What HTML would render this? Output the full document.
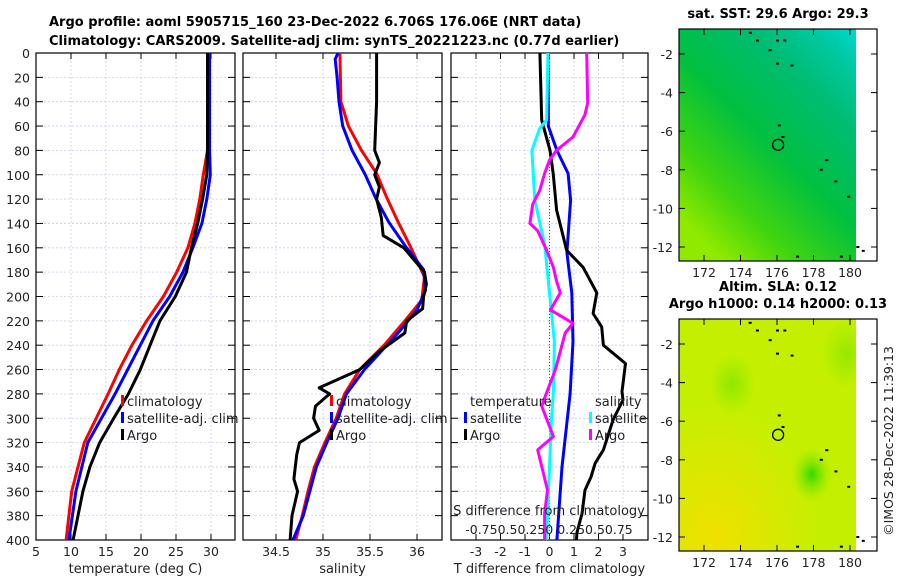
<!DOCTYPE html>
<html><head><meta charset="utf-8"><style>
html,body{margin:0;padding:0;background:#fff;}
svg{display:block;font-family:"DejaVu Sans","Liberation Sans",sans-serif;}
</style></head><body>
<svg id="fig" width="900" height="580" viewBox="0 0 900 580" xmlns="http://www.w3.org/2000/svg">
<defs>
<linearGradient id="sstg" x1="1" y1="0" x2="0.25" y2="1">
<stop offset="0" stop-color="#00d8d0"/><stop offset="0.12" stop-color="#00c8a0"/><stop offset="0.3" stop-color="#00bc70"/><stop offset="0.55" stop-color="#00c040"/><stop offset="0.8" stop-color="#40d410"/><stop offset="1" stop-color="#90ea00"/>
</linearGradient>
<radialGradient id="slaY" cx="0.2" cy="0.95" r="0.6"><stop offset="0" stop-color="#f0e000"/><stop offset="1" stop-color="#f0e000" stop-opacity="0"/></radialGradient>
<radialGradient id="slaG1" cx="0.75" cy="0.67" r="0.12"><stop offset="0" stop-color="#30d800"/><stop offset="1" stop-color="#90e800" stop-opacity="0"/></radialGradient>
<radialGradient id="slaG2" cx="0.3" cy="0.28" r="0.13"><stop offset="0" stop-color="#90e800"/><stop offset="1" stop-color="#90e800" stop-opacity="0"/></radialGradient>
<radialGradient id="slaG3" cx="0.95" cy="0.15" r="0.15"><stop offset="0" stop-color="#98e800"/><stop offset="1" stop-color="#98e800" stop-opacity="0"/></radialGradient>
</defs>
<g font-weight="bold" font-size="13" fill="#000">
<text x="49" y="26">Argo profile: aoml 5905715_160 23-Dec-2022 6.706S 176.06E (NRT data)</text>
<text x="49" y="45">Climatology: CARS2009. Satellite-adj clim: synTS_20221223.nc (0.77d earlier)</text>
</g>
<g id="plots"></g>
</svg>
<script>
// ---- data ----
const depthTicks=[0,20,40,60,80,100,120,140,160,180,200,220,240,260,280,300,320,340,360,380,400];
const tempTicks=[5,10,15,20,25,30];
const salTicks=[34.5,35,35.5,36];
const tdiffTicks=[-3,-2,-1,0,1,2,3];
const sdiffTickLabels=["-0.75","0.5","0.25","0","0.25","0.5","0.75"];
const tempClimDepth=[0,40,80,100,120,140,160,180,200,220,240,260,280,320,360,400];
const tempClimVal=[29.6,29.6,29.5,28.9,28.4,27.7,26.7,25.1,23.2,20.8,18.7,16.9,15.3,11.9,10.1,9.3];
const tempSatDepth=[0,40,80,100,120,140,160,180,200,220,240,260,280,320,360,400];
const tempSatVal=[29.8,29.8,29.8,29.9,29.4,28.7,27.4,26.0,24.1,21.7,19.9,18.1,16.3,12.4,10.7,9.7];
const tempArgoDepth=[0,40,80,100,120,140,160,180,200,220,240,260,280,300,320,340,360,400];
const tempArgoVal=[29.5,29.5,29.5,29.4,28.8,28.1,27.2,26.5,24.9,22.7,21.3,19.9,18.2,16.1,14.1,12.7,11.7,10.3];
const salClimDepth=[0,40,60,80,99,119,139,159,184,203,220,240,260,280,300,320,340,360,380,400];
const salClimVal=[35.18,35.19,35.27,35.41,35.57,35.68,35.80,35.93,36.08,36.05,35.87,35.65,35.39,35.23,35.14,35.02,34.91,34.84,34.78,34.71];
const salSatDepth=[0,5,20,40,60,80,100,119,139,159,178,195,211,228,240,260,280,300,320,340,360,380,400];
const salSatVal=[35.16,35.13,35.15,35.17,35.21,35.31,35.45,35.56,35.70,35.88,36.07,36.09,36.00,35.82,35.68,35.44,35.25,35.16,35.04,34.93,34.86,34.79,34.68];
const salArgoDepth=[0,40,80,90,100,110,120,135,150,160,170,180,190,200,210,220,230,245,260,275,280,290,300,310,320,330,350,360,380,400];
const salArgoVal=[35.57,35.57,35.55,35.60,35.55,35.60,35.57,35.62,35.64,35.86,35.97,36.08,36.10,36.07,36.06,35.89,35.87,35.60,35.39,34.96,35.07,34.92,34.90,34.96,34.75,34.72,34.69,34.73,34.67,34.65];
const tdSatDepth=[0,60,80,99,121,164,197,237,280,340,400];
const tdSatVal=[-0.06,-0.05,0.3,0.76,0.86,0.71,0.91,0.96,0.84,0.51,0.3];
const tdArgoDepth=[0,55,80,99,129,146,162,176,197,214,225,240,255,278,285,301,326,337,348,359,378,394,400];
const tdArgoVal=[-0.39,-0.32,0.02,0.15,0.29,0.5,0.7,1.37,1.93,1.78,2.13,2.2,3.1,2.96,3.0,2.6,2.2,1.86,1.7,1.45,1.33,1.12,1.1];
const sdSatDepth=[0,55,62,80,121,157,237,279,300,400];
const sdSatVal=[-0.015,-0.03,-0.1,-0.18,-0.15,-0.05,0.05,0.04,0.02,-0.03];
const sdArgoDepth=[0,41,51,69,80,88,99,113,124,140,146,162,176,187,197,211,222,230,260,279,290,315,326,359,378,400];
const sdArgoVal=[0.38,0.39,0.36,0.24,0.07,0.0,-0.05,-0.1,-0.17,-0.2,-0.12,-0.03,0.04,0.07,0.11,0.01,0.24,0.16,0.06,-0.03,-0.08,0.04,-0.12,-0.02,-0.05,-0.05];
const mapLonTicks=[172,174,176,178,180];
const mapLatTicks=[-2,-4,-6,-8,-10,-12];
const argoLon=176.06, argoLat=-6.706;

const NS="http://www.w3.org/2000/svg";
const root=document.getElementById('plots');
function el(tag,attrs,parent,txt){const e=document.createElementNS(NS,tag);for(const k in attrs)e.setAttribute(k,attrs[k]);if(txt!==undefined)e.textContent=txt;(parent||root).appendChild(e);return e;}
const Y0=53,Y1=540;
const yD=d=>Y0+d*(Y1-Y0)/400;

function panel(name,x0,x1,xs,ticks,labels,xlabel){
  const g=el('g',{},root);
  
  
  ticks.forEach(t=>{const x=xs(t);if(x>x0+1&&x<x1-1){const l=el('line',{x1:x,x2:x,y1:Y0,y2:Y1,stroke:'#c8cde8','stroke-width':0.8,'stroke-dasharray':'2,2'},g);}});
  depthTicks.forEach(d=>{const y=yD(d);if(d>0&&d<400){const l=el('line',{x1:x0,x2:x1,y1:y,y2:y,stroke:'#c8cde8','stroke-width':0.8,'stroke-dasharray':'2,2'},g);}
    el('line',{x1:x0,x2:x0+7,y1:y,y2:y,stroke:'#000'},g);el('line',{x1:x1-7,x2:x1,y1:y,y2:y,stroke:'#000'},g);});
  ticks.forEach(t=>{const x=xs(t);el('line',{x1:x,x2:x,y1:Y1,y2:Y1-6,stroke:'#000'},g);el('line',{x1:x,x2:x,y1:Y0,y2:Y0+6,stroke:'#000'},g);});
  const b=el('rect',{x:x0,y:Y0,width:x1-x0,height:Y1-Y0,fill:'none',stroke:'#000','stroke-width':1.2},g);
  
  if(labels){ticks.forEach((t,i)=>{const tx=el('text',{x:xs(t),y:556,'font-size':12.5,'text-anchor':'middle',fill:'#222'},g,labels[i]);});}
  if(xlabel){const xl=el('text',{x:(x0+x1)/2,y:573,'font-size':13,'text-anchor':'middle',fill:'#222'},g,xlabel);}
  return g;
}
function line(g,name,depths,vals,xs,color,w,dash){
  const pts=depths.map((d,i)=>xs(vals[i]).toFixed(1)+','+yD(d).toFixed(1)).join(' ');
  const p=el('polyline',{points:pts,fill:'none',stroke:color,'stroke-width':w||3,'stroke-linejoin':'round'},g);
  if(dash)p.setAttribute('stroke-dasharray',dash);
  
  
}

depthTicks.forEach(d=>{const t=el('text',{x:30,y:yD(d)+5,'font-size':12.5,'text-anchor':'end',fill:'#222'},root,String(d));});

const xT=v=>36+(v-5)*7;
const g1=panel('temperature-panel',36,235,xT,tempTicks,tempTicks.map(String),'temperature (deg C)');
line(g1,'temp-climatology-line',tempClimDepth,tempClimVal,xT,'#ff0000');
line(g1,'temp-satellite-line',tempSatDepth,tempSatVal,xT,'#0000ff');
line(g1,'temp-argo-line',tempArgoDepth,tempArgoVal,xT,'#000');

const xS=v=>276+(v-34.5)*94;
const g2=panel('salinity-panel',243,442,xS,salTicks,salTicks.map(String),'salinity');
line(g2,'sal-climatology-line',salClimDepth,salClimVal,xS,'#ff0000');
line(g2,'sal-satellite-line',salSatDepth,salSatVal,xS,'#0000ff');
line(g2,'sal-argo-line',salArgoDepth,salArgoVal,xS,'#000');

const xTd=v=>549.5+v*24.5, xSd=v=>549.5+v*98;
const g3=panel('difference-panel',451,648,xTd,tdiffTicks,tdiffTicks.map(String),'T difference from climatology');
el('line',{x1:549.5,x2:549.5,y1:Y0,y2:Y1,stroke:'#555','stroke-width':1,'stroke-dasharray':'1,2'},g3);
line(g3,'tdiff-satellite-line',tdSatDepth,tdSatVal,xTd,'#0000ff');
line(g3,'tdiff-argo-line',tdArgoDepth,tdArgoVal,xTd,'#000');
line(g3,'sdiff-satellite-line',sdSatDepth,sdSatVal,xSd,'#00ffff');
line(g3,'sdiff-argo-line',sdArgoDepth,sdArgoVal,xSd,'#ff00ff');
const st=el('text',{x:549,y:515,'font-size':13,'text-anchor':'middle',fill:'#222'},g3,'S difference from climatology');

const sl=el('text',{x:549,y:534,'font-size':12.5,'text-anchor':'middle',fill:'#222'},g3,'-0.750.50.250 0.250.50.75');


function legend(name,x,y,color,label){
  const g=el('g',{},root);
  el('rect',{x:x,y:y-11,width:3,height:11,fill:color},g);
  el('text',{x:x+6,y:y,'font-size':13,fill:'#222'},g,label);
}
legend('legend-climatology',121,406,'#ff0000','climatology');
legend('legend-satellite-adj',121,423,'#0000ff','satellite-adj. clim');
legend('legend-argo',121,440,'#000','Argo');
legend('legend2-climatology',330,406,'#ff0000','climatology');
legend('legend2-satellite-adj',330,423,'#0000ff','satellite-adj. clim');
legend('legend2-argo',330,440,'#000','Argo');
const lt=el('text',{x:470,y:406,'font-size':13,fill:'#222'},root,'temperature');
const ls=el('text',{x:595,y:406,'font-size':13,fill:'#222'},root,'salinity');
legend('legend-tdiff-satellite',464,423,'#0000ff','satellite');
legend('legend-tdiff-argo',464,440,'#000','Argo');
legend('legend-sdiff-satellite',589,423,'#00ffff','satellite');
legend('legend-sdiff-argo',589,440,'#ff00ff','Argo');

function map(name,top,fills,title){
  const g=el('g',{},root);
  const L=679,R=877,B=top+232,DR=856;
  fills.forEach(f=>el('rect',{x:L,y:top,width:DR-L,height:B-top,fill:f},g));
  const lx=v=>704+(v-172)*18.25, ly=v=>top+25+(-2-v)*19.3;
  [[174.5,-0.9],[174.9,-1.3],[176,-1.3],[176.4,-1.3],[175.6,-1.8],[176,-2.5],[176.8,-2.6],[176.1,-5.7],[176.3,-6.3],[178.7,-7.5],[178.4,-8],[179.2,-8.6],[179.9,-9.4],[177.1,-12.5],[179.5,-12.5],[180.4,-12],[180.7,-12.2]].forEach(p=>el('rect',{x:lx(p[0])-1,y:ly(p[1])-1,width:3,height:2,fill:'#000'},g));
  const c=el('circle',{cx:lx(argoLon),cy:ly(argoLat),r:5.5,fill:'none',stroke:'#000','stroke-width':1.3},g);
  
  el('rect',{x:L,y:top,width:R-L,height:B-top,fill:'none',stroke:'#000','stroke-width':1.2},g);
  mapLonTicks.forEach(v=>{const x=lx(v);el('line',{x1:x,x2:x,y1:B,y2:B-6,stroke:'#000'},g);el('line',{x1:x,x2:x,y1:top,y2:top+6,stroke:'#000'},g);
    const t=el('text',{x:x,y:B+16,'font-size':12.5,'text-anchor':'middle',fill:'#222'},g,String(v));});
  mapLatTicks.forEach(v=>{const y=ly(v);el('line',{x1:L,x2:L+6,y1:y,y2:y,stroke:'#000'},g);el('line',{x1:R-6,x2:R,y1:y,y2:y,stroke:'#000'},g);
    const t=el('text',{x:673,y:y+5,'font-size':12.5,'text-anchor':'end',fill:'#222'},g,String(v));});
  title.forEach((s,i)=>{const t=el('text',{x:778,y:top-11-(title.length-1-i)*17,'font-size':13,'font-weight':'bold','text-anchor':'middle',fill:'#000'},g,s);});
}
map('sst-map',29,['url(#sstg)'],['sat. SST: 29.6 Argo: 29.3']);
map('sla-map',319,['#c4f000','url(#slaY)','url(#slaG2)','url(#slaG3)','url(#slaG1)'],['Altim. SLA: 0.12','Argo h1000: 0.14 h2000: 0.13']);
const cp=el('text',{x:0,y:0,'font-size':12.5,fill:'#222','text-anchor':'middle',transform:'translate(893,441) rotate(-90)'},root,'©IMOS 28-Dec-2022 11:39:13');

</script>
</body></html>
